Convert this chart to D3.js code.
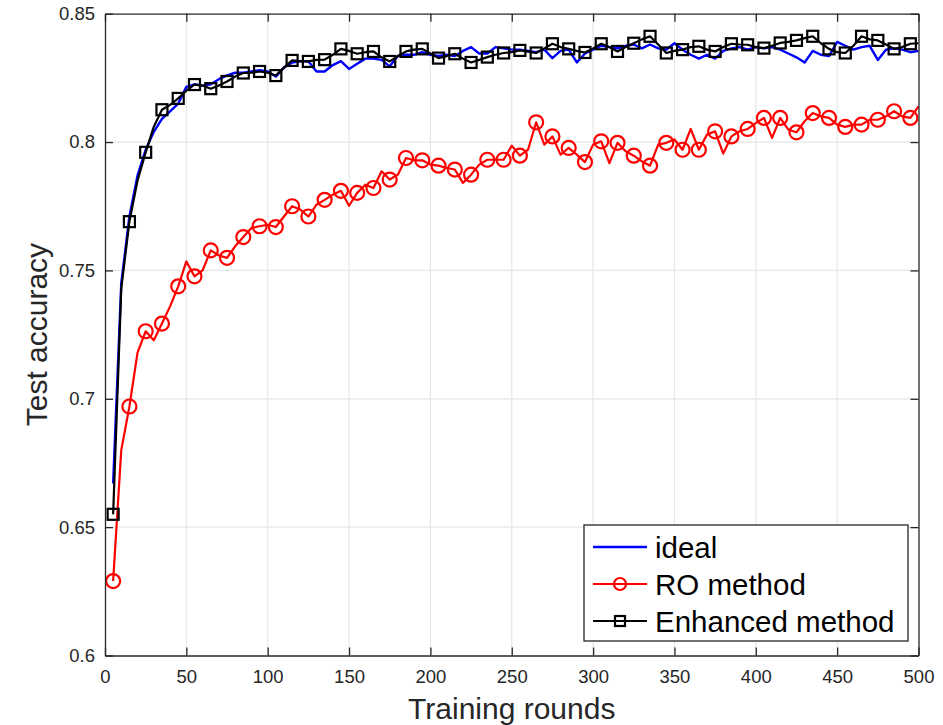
<!DOCTYPE html>
<html><head><meta charset="utf-8">
<script src="https://cdn.jsdelivr.net/npm/d3@7"></script>
<style>body{margin:0;background:#fff}svg{display:block}text{font-family:"Liberation Sans",Arial,Helvetica,sans-serif}</style>
</head><body>
<svg id="c" width="943" height="725"></svg>
<script>
const rounds = [5,10,15,20,25,30,35,40,45,50,55,60,65,70,75,80,85,90,95,100,105,110,115,120,125,130,135,140,145,150,155,160,165,170,175,180,185,190,195,200,205,210,215,220,225,230,235,240,245,250,255,260,265,270,275,280,285,290,295,300,305,310,315,320,325,330,335,340,345,350,355,360,365,370,375,380,385,390,395,400,405,410,415,420,425,430,435,440,445,450,455,460,465,470,475,480,485,490,495,500];
const ideal = [0.667,0.745,0.771,0.787,0.797,0.804,0.809,0.812,0.815,0.8215,
0.8225,0.822,0.8225,0.8245,0.826,0.827,0.827,0.8275,0.828,0.8275,
0.8255,0.829,0.831,0.8315,0.8315,0.8275,0.8275,0.830,0.8315,0.8285,
0.8305,0.8325,0.8325,0.832,0.8295,0.8335,0.834,0.834,0.835,0.834,
0.8335,0.834,0.8335,0.8355,0.837,0.8345,0.8345,0.837,0.8365,0.836,
0.836,0.8355,0.835,0.836,0.8327,0.8355,0.836,0.831,0.8345,0.836,
0.8375,0.837,0.8365,0.8375,0.838,0.8365,0.838,0.8365,0.836,0.8385,
0.836,0.834,0.8325,0.834,0.8325,0.8355,0.8365,0.837,0.836,0.837,
0.8365,0.837,0.836,0.8345,0.833,0.831,0.8355,0.834,0.8335,0.839,
0.8375,0.836,0.837,0.8375,0.832,0.836,0.8365,0.836,0.835,0.8355];
const roMethod = [0.629,0.680,0.697,0.718,0.7263,0.7228,0.7293,0.736,0.7438,0.7535,
0.7477,0.750,0.7578,0.7558,0.7549,0.7594,0.763,0.7665,0.7672,0.7678,
0.7669,0.771,0.775,0.7737,0.771,0.7756,0.7775,0.7795,0.781,0.7752,
0.7802,0.7834,0.7821,0.7886,0.7854,0.7873,0.7938,0.7929,0.7929,0.7912,
0.7908,0.7899,0.7893,0.7841,0.7873,0.7912,0.7931,0.7931,0.7931,0.7986,
0.7947,0.797,0.8077,0.799,0.8022,0.7951,0.7977,0.7951,0.7922,0.799,
0.8003,0.7918,0.7997,0.7964,0.7947,0.7925,0.7908,0.799,0.7997,0.801,
0.797,0.8051,0.797,0.8029,0.8042,0.7955,0.8022,0.8042,0.8051,0.8074,
0.8094,0.8016,0.8094,0.8048,0.8038,0.8081,0.8113,0.810,0.8094,0.8068,
0.8059,0.8068,0.8068,0.8087,0.8087,0.810,0.812,0.81,0.8094,0.8139];
const enhanced = [0.655,0.743,0.769,0.785,0.796,0.806,0.8126,0.8145,0.817,0.820,
0.8224,0.822,0.8208,0.822,0.8236,0.8255,0.8269,0.827,0.8275,0.827,
0.8259,0.829,0.8318,0.8315,0.8314,0.832,0.8321,0.834,0.8363,0.8355,
0.8344,0.835,0.8353,0.833,0.8314,0.8335,0.8353,0.836,0.8363,0.8345,
0.8327,0.8335,0.8344,0.8325,0.831,0.832,0.8331,0.834,0.8347,0.835,
0.8357,0.8352,0.8347,0.8365,0.8383,0.837,0.8363,0.8355,0.8349,0.8365,
0.8383,0.837,0.8353,0.837,0.8385,0.840,0.8412,0.838,0.8347,0.8355,
0.836,0.837,0.8373,0.836,0.8353,0.837,0.8383,0.838,0.8379,0.837,
0.8366,0.8375,0.8386,0.839,0.8396,0.8405,0.8412,0.8385,0.8363,0.835,
0.8347,0.8375,0.8412,0.840,0.8396,0.838,0.8363,0.837,0.8383,0.8385];
const xTicks = [0,50,100,150,200,250,300,350,400,450,500];
const yTicks = [0.6,0.65,0.7,0.75,0.8,0.85];
const seriesNames = ["ideal","RO method","Enhanced method"];
const xLabel = "Training rounds", yLabel = "Test accuracy";

const svg = d3.select("#c");
const L = 105, R = 918.5, T = 13.7, B = 655.5;
const x = d3.scaleLinear().domain([0,500]).range([L,R]);
const y = d3.scaleLinear().domain([0.6,0.85]).range([B,T]);
const axisCol = "#262626";

// grid
const g = svg.append("g");
g.selectAll(".gx").data(xTicks.slice(1,-1)).join("line")
  .attr("x1",d=>x(d)).attr("x2",d=>x(d)).attr("y1",T).attr("y2",B)
  .attr("stroke","#e6e6e6").attr("stroke-width",1.2);
g.selectAll(".gy").data(yTicks.slice(1,-1)).join("line")
  .attr("x1",L).attr("x2",R).attr("y1",d=>y(d)).attr("y2",d=>y(d))
  .attr("stroke","#e6e6e6").attr("stroke-width",1.2);

// series
const pts = vals => rounds.map((r,i)=>[r, vals[i]]);
const line = d3.line().x(d=>x(d[0])).y(d=>y(d[1]));
const plot = svg.append("g");

plot.append("path").datum(pts(ideal)).attr("d",line).attr("fill","none")
  .attr("stroke","#0000ff").attr("stroke-width",2.4).attr("stroke-linejoin","round");

plot.append("path").datum(pts(roMethod)).attr("d",line).attr("fill","none")
  .attr("stroke","#ff0000").attr("stroke-width",2.2).attr("stroke-linejoin","round");
plot.selectAll(".ro").data(pts(roMethod).filter((d,i)=>i%2===0)).join("circle")
  .attr("cx",d=>x(d[0])).attr("cy",d=>y(d[1])).attr("r",7)
  .attr("fill","none").attr("stroke","#ff0000").attr("stroke-width",2.2);

plot.append("path").datum(pts(enhanced)).attr("d",line).attr("fill","none")
  .attr("stroke","#000").attr("stroke-width",2.2).attr("stroke-linejoin","round");
plot.selectAll(".en").data(pts(enhanced).filter((d,i)=>i%2===0)).join("rect")
  .attr("x",d=>x(d[0])-5.5).attr("y",d=>y(d[1])-5.5).attr("width",11).attr("height",11)
  .attr("fill","none").attr("stroke","#000").attr("stroke-width",2.2);

// axes (ticks inward on all sides)
const tl = 8;
const xb = svg.append("g").attr("transform",`translate(0,${B})`)
  .call(d3.axisBottom(x).tickValues(xTicks).tickSize(-tl).tickPadding(14).tickSizeOuter(0).tickFormat(d3.format("d")));
const yl = svg.append("g").attr("transform",`translate(${L},0)`)
  .call(d3.axisLeft(y).tickValues(yTicks).tickSize(-tl).tickPadding(10).tickSizeOuter(0).tickFormat(d=>String(+d.toFixed(2))));
const xt = svg.append("g").attr("transform",`translate(0,${T})`)
  .call(d3.axisTop(x).tickValues(xTicks).tickSize(-tl).tickSizeOuter(0).tickFormat(""));
const yr = svg.append("g").attr("transform",`translate(${R},0)`)
  .call(d3.axisRight(y).tickValues(yTicks).tickSize(-tl).tickSizeOuter(0).tickFormat(""));
[xb,yl,xt,yr].forEach(a=>{
  a.select(".domain").attr("stroke",axisCol).attr("stroke-width",1.3);
  a.selectAll(".tick line").attr("stroke",axisCol).attr("stroke-width",1.3);
  a.selectAll(".tick text").attr("fill",axisCol).attr("font-size",18.5)
   .style("font-family","'Liberation Sans',Arial,sans-serif");
});

svg.append("text").attr("x",(L+R)/2).attr("y",719).attr("text-anchor","middle")
  .attr("font-size",30).attr("fill",axisCol).text(xLabel);
svg.append("text").attr("transform",`translate(47,${(T+B)/2}) rotate(-90)`).attr("text-anchor","middle")
  .attr("font-size",30).attr("fill",axisCol).text(yLabel);

// legend
const lg = svg.append("g");
lg.append("rect").attr("x",584).attr("y",525).attr("width",324).attr("height",116)
  .attr("fill","#fff").attr("stroke",axisCol).attr("stroke-width",1.3);
const rowY = [547,584,621];
const cols = ["#0000ff","#ff0000","#000"];
seriesNames.forEach((n,i)=>{
  lg.append("line").attr("x1",593).attr("x2",647).attr("y1",rowY[i]).attr("y2",rowY[i])
    .attr("stroke",cols[i]).attr("stroke-width",i===0?2.4:2.2);
  if(i===1) lg.append("circle").attr("cx",620).attr("cy",rowY[i]).attr("r",6)
    .attr("fill","none").attr("stroke",cols[i]).attr("stroke-width",2.2);
  if(i===2) lg.append("rect").attr("x",615).attr("y",rowY[i]-5).attr("width",10).attr("height",10)
    .attr("fill","none").attr("stroke",cols[i]).attr("stroke-width",2.2);
  lg.append("text").attr("x",655).attr("y",rowY[i]+10.5).attr("font-size",29.5)
    .attr("fill","#000").text(n);
});
</script>
</body></html>
